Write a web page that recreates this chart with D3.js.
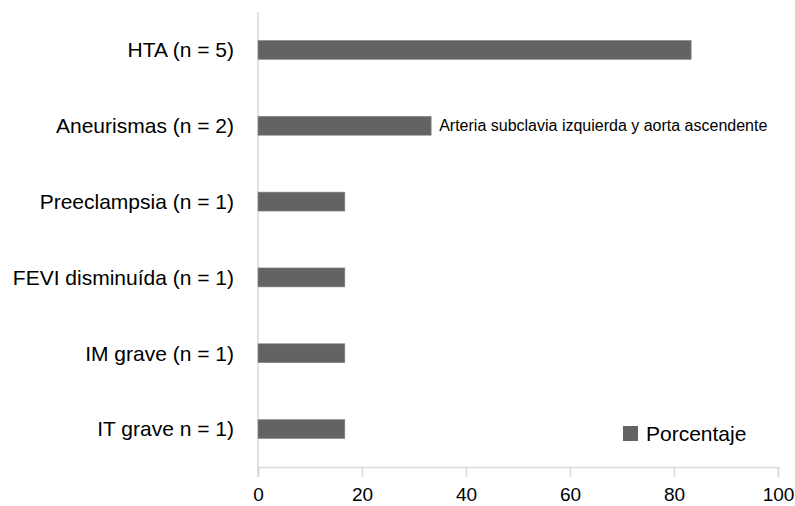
<!DOCTYPE html>
<html>
<head>
<meta charset="utf-8">
<script src="https://cdn.jsdelivr.net/npm/d3@7/dist/d3.min.js"></script>
<style>
  html, body { margin: 0; padding: 0; background: #fff; }
  svg { display: block; font-family: "Liberation Sans", Arial, Helvetica, sans-serif; }
</style>
</head>
<body>
<svg id="chart" width="795" height="506"></svg>
<script>
// Categories (top to bottom) and their percentage values
const categories = [
  "HTA (n = 5)",
  "Aneurismas (n = 2)",
  "Preeclampsia (n = 1)",
  "FEVI disminuída (n = 1)",
  "IM grave (n = 1)",
  "IT grave n = 1)"
];
const values = [83.3, 33.3, 16.7, 16.7, 16.7, 16.7];
const xTicks = [0, 20, 40, 60, 80, 100];
const seriesName = "Porcentaje";
const annotations = [{ category: "Aneurismas (n = 2)", text: "Arteria subclavia izquierda y aorta ascendente" }];

const data = categories.map((c, i) => ({ category: c, value: values[i] }));

const svg = d3.select("#chart");
const margin = { top: 12, right: 17, bottom: 39, left: 258 };
const width = 795, height = 506;

const x = d3.scaleLinear().domain([0, 100]).range([margin.left, width - margin.right]);
const y = d3.scaleBand().domain(categories).range([margin.top, height - margin.bottom]).paddingInner(0.75).paddingOuter(0.375);

const axisColor = "#d9d9d9";
const barColor = "#636363";

// Bottom axis
const xAxis = svg.append("g")
  .attr("transform", `translate(0,${height - margin.bottom})`)
  .call(d3.axisBottom(x).tickValues(xTicks).tickSize(10).tickPadding(11).tickFormat(d3.format("d")));
xAxis.select(".domain").attr("stroke", axisColor).attr("stroke-width", 1.5);
xAxis.selectAll(".tick line").attr("stroke", axisColor).attr("stroke-width", 1.5);
xAxis.selectAll(".tick text").attr("fill", "#000").attr("font-size", 19)
  .attr("font-family", "\"Liberation Sans\", Arial, sans-serif");

// Left axis line
svg.append("line")
  .attr("x1", x(0)).attr("x2", x(0))
  .attr("y1", margin.top).attr("y2", height - margin.bottom + 10)
  .attr("stroke", axisColor).attr("stroke-width", 1.5);

// Category labels
svg.append("g").selectAll("text")
  .data(categories)
  .join("text")
  .attr("x", 234)
  .attr("y", d => y(d) + y.bandwidth() / 2)
  .attr("dy", "0.35em")
  .attr("text-anchor", "end")
  .attr("font-size", 21)
  .attr("fill", "#000")
  .text(d => d);

// Bars
svg.append("g").selectAll("rect")
  .data(data)
  .join("rect")
  .attr("x", x(0))
  .attr("y", d => y(d.category))
  .attr("width", d => x(d.value) - x(0))
  .attr("height", y.bandwidth())
  .attr("fill", barColor)
  .attr("stroke", "#8a8a8a")
  .attr("stroke-width", 0.6);

// Bar annotations
svg.append("g").selectAll("text")
  .data(annotations)
  .join("text")
  .attr("x", d => x(values[categories.indexOf(d.category)]) + 8)
  .attr("y", d => y(d.category) + y.bandwidth() / 2)
  .attr("dy", "0.35em")
  .attr("font-size", 16)
  .attr("fill", "#000")
  .text(d => d.text);

// Legend
const legend = svg.append("g").attr("transform", "translate(623,426)");
legend.append("rect").attr("width", 15).attr("height", 15).attr("fill", barColor);
legend.append("text").attr("x", 23).attr("y", 7.5).attr("dy", "0.35em")
  .attr("font-size", 21).attr("fill", "#000").text(seriesName);
</script>
</body>
</html>
